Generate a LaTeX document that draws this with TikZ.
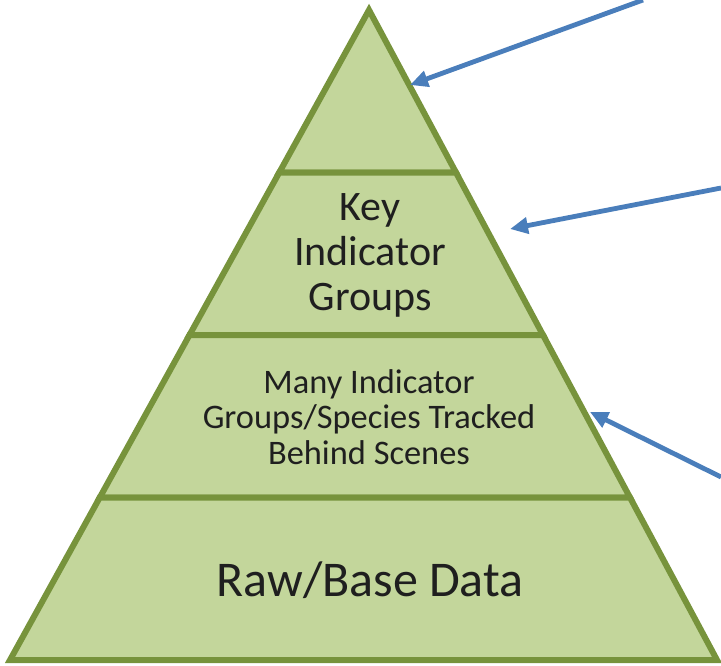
\documentclass[tikz,border=0pt]{standalone}
\usepackage{fontspec}
\setmainfont{Carlito}
\usetikzlibrary{calc, arrows.meta, positioning}

\definecolor{tierfill}{HTML}{C3D69B}
\definecolor{tierline}{HTML}{77933C}
\definecolor{arrowblue}{HTML}{4A7EBB}

\tikzset{
  tier/.style={fill=tierfill, draw=tierline, line width=3pt, line join=miter},
  tiertext/.style={align=center, text=black!88, inner sep=0pt},
  pointer/.style={draw=arrowblue, line width=2.4pt, -{Triangle[length=9pt,width=8pt]}}
}

\begin{document}
\begin{tikzpicture}[x=0.5pt, y=-0.5pt]

    \useasboundingbox (0,0) rectangle (721,665);

    % corners of the pyramid
    \coordinate (top) at (369,10);
    \coordinate (bl) at (10,660);
    \coordinate (br) at (717,660);

    % split points along both sides
    \coordinate (l1) at ($(top)!0.25!(bl)$);
    \coordinate (r1) at ($(top)!0.25!(br)$);
    \coordinate (l2) at ($(top)!0.5!(bl)$);
    \coordinate (r2) at ($(top)!0.5!(br)$);
    \coordinate (l3) at ($(top)!0.75!(bl)$);
    \coordinate (r3) at ($(top)!0.75!(br)$);

    % the four tiers
    \draw[tier] (top) -- (r1) -- (l1) -- cycle;
    \draw[tier] (l1) -- (r1) -- (r2) -- (l2) -- cycle;
    \draw[tier] (l2) -- (r2) -- (r3) -- (l3) -- cycle;
    \draw[tier] (l3) -- (r3) -- (br) -- (bl) -- cycle;

    \node[tiertext, font=\fontsize{21}{22.5}\selectfont] (keygroups) at (370,255) {Key\\Indicator\\Groups};
    \node[tiertext, font=\fontsize{17.2}{17.8}\selectfont] (manygroups) at (369,417) {Many Indicator\\Groups/Species Tracked\\Behind Scenes};
    \node[tiertext, font=\fontsize{25}{28}\selectfont] (rawdata) at (370,580) {Raw/Base Data};

    % pointers coming in from the right
    \coordinate (tail1) at (643,0);
    \coordinate (tip1) at (410,85);
    \coordinate (tail2) at (721,188);
    \coordinate (tip2) at (510,229);
    \coordinate (tail3) at (721,477);
    \coordinate (tip3) at (590,412);

    \draw[pointer] (tail1) -- (tip1);
    \draw[pointer] (tail2) -- (tip2);
    \draw[pointer] (tail3) -- (tip3);

\end{tikzpicture}
\end{document}
